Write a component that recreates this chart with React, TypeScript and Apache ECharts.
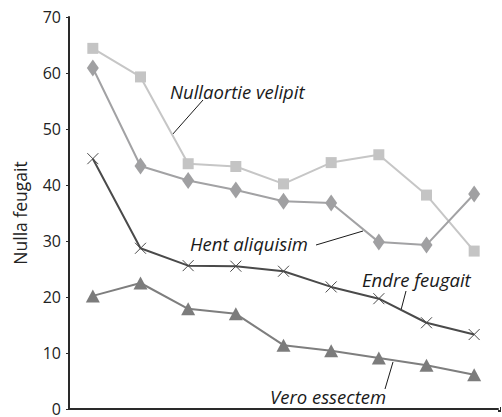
import React, { useEffect, useRef } from "react";
import * as echarts from "echarts";

const categories = ["1", "2", "3", "4", "5", "6", "7", "8", "9"];
const nullaortieVelipit = [64.4, 59.3, 43.8, 43.3, 40.2, 44.0, 45.4, 38.2, 28.2];
const hentAliquisim = [60.9, 43.4, 40.8, 39.1, 37.1, 36.8, 29.8, 29.3, 38.4];
const endreFeugait = [44.7, 28.7, 25.6, 25.5, 24.6, 21.8, 19.7, 15.4, 13.3];
const veroEssectem = [20.2, 22.5, 17.9, 17.0, 11.4, 10.4, 9.1, 7.8, 6.1];
const yTicks = [0, 10, 20, 30, 40, 50, 60, 70];

const FONT = "Open Sans";

export default function App() {
  const ref = useRef<HTMLDivElement>(null);
  useEffect(() => {
    if (!ref.current) return;
    const chart = echarts.init(ref.current, null, { renderer: "svg" });
    const labelStyle = {
      fill: "#1a1a1a",
      fontFamily: FONT,
      fontSize: 18.5,
      fontStyle: "italic",
      verticalAlign: "middle",
    };
    const lineStyle = { stroke: "#1a1a1a", lineWidth: 1 };
    chart.setOption({
      animation: false,
      backgroundColor: "#ffffff",
      grid: { left: 69, right: 4, top: 17, bottom: 6 },
      xAxis: {
        type: "category",
        data: categories,
        boundaryGap: true,
        axisLine: { lineStyle: { color: "#2a2a2a", width: 2 } },
        axisTick: { show: false },
        axisLabel: { show: false },
        splitLine: { show: false },
      },
      yAxis: {
        type: "value",
        min: yTicks[0],
        max: yTicks[yTicks.length - 1],
        interval: 10,
        name: "Nulla feugait",
        nameLocation: "middle",
        nameGap: 40,
        nameTextStyle: { fontFamily: FONT, fontSize: 17.5, color: "#222" },
        axisLine: { show: true, lineStyle: { color: "#2a2a2a", width: 2 } },
        axisTick: { show: true, length: 3, lineStyle: { color: "#2a2a2a" } },
        axisLabel: { fontFamily: FONT, fontSize: 16, color: "#222", margin: 8 },
        splitLine: { show: false },
      },
      series: [
        {
          name: "Nullaortie velipit",
          type: "line",
          data: nullaortieVelipit,
          symbol: "rect",
          symbolSize: 11,
          lineStyle: { color: "#c6c6c6", width: 2 },
          itemStyle: { color: "#c4c4c4" },
        },
        {
          name: "Hent aliquisim",
          type: "line",
          data: hentAliquisim,
          symbol: "diamond",
          symbolSize: [12, 17],
          lineStyle: { color: "#a2a2a4", width: 2 },
          itemStyle: { color: "#a0a0a2" },
        },
        {
          name: "Endre feugait",
          type: "line",
          data: endreFeugait,
          symbol: "path://M0,0L10,10M10,0L0,10",
          symbolSize: 11,
          lineStyle: { color: "#4a4a4a", width: 2 },
          itemStyle: { color: "#4a4a4a", borderColor: "#4a4a4a", borderWidth: 1 },
        },
        {
          name: "Vero essectem",
          type: "line",
          data: veroEssectem,
          symbol: "triangle",
          symbolSize: [14, 13],
          lineStyle: { color: "#7e7e7e", width: 2 },
          itemStyle: { color: "#7c7c7c" },
        },
      ],
      graphic: [
        { type: "line", shape: { x1: 498, y1: 411, x2: 501, y2: 411 }, style: { stroke: "#2a2a2a", lineWidth: 2 } },
        { type: "line", shape: { x1: 500.5, y1: 407, x2: 500.5, y2: 411 }, style: { stroke: "#2a2a2a", lineWidth: 1 } },
        { type: "text", x: 170, y: 91, style: { ...labelStyle, text: "Nullaortie velipit" } },
        { type: "line", shape: { x1: 203, y1: 100, x2: 172, y2: 135 }, style: lineStyle },
        { type: "text", x: 190, y: 243, style: { ...labelStyle, text: "Hent aliquisim" } },
        { type: "line", shape: { x1: 316, y1: 245, x2: 363, y2: 231 }, style: lineStyle },
        { type: "text", x: 362, y: 279, style: { ...labelStyle, text: "Endre feugait" } },
        { type: "line", shape: { x1: 406, y1: 291, x2: 401, y2: 310 }, style: lineStyle },
        { type: "text", x: 270, y: 396, style: { ...labelStyle, text: "Vero essectem" } },
        { type: "line", shape: { x1: 385, y1: 389, x2: 393, y2: 362 }, style: lineStyle },
      ],
    });
    return () => chart.dispose();
  }, []);
  return (
    <div
      ref={ref}
      style={{ position: "fixed", left: 0, top: 0, width: 502, height: 417 }}
    />
  );
}
